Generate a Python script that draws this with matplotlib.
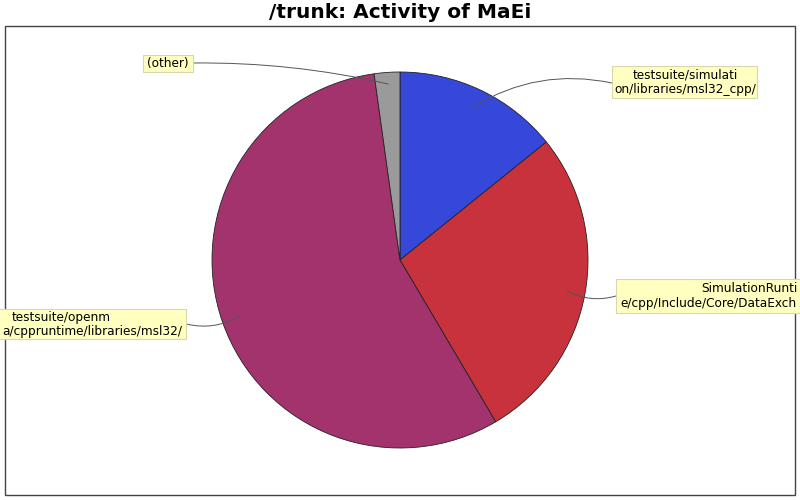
import matplotlib.pyplot as plt
from matplotlib.patches import Rectangle

# slice data (clockwise from 12 o'clock)
labels = ["testsuite/simulation/libraries/msl32_cpp/",
          "SimulationRuntime/cpp/Include/Core/DataExchange/",
          "testsuite/openmodelica/cppruntime/libraries/msl32/",
          "(other)"]
shares = [14.2, 27.3, 56.3, 2.2]
colors = ["#3548da", "#c8323c", "#a3336d", "#9a9a9a"]

fig = plt.figure(figsize=(8, 5), dpi=100)
ax = fig.add_axes([0, 0, 1, 1])

def py(y):
    # pixel row -> data y
    return 500 - y

# frame
ax.add_patch(Rectangle((5, py(495)), 790, 469, fill=False, edgecolor="#444444", lw=1))

ax.pie(shares, colors=colors, startangle=90, counterclock=False,
       center=(400, py(260)), radius=188, frame=True,
       wedgeprops=dict(edgecolor="#222222", linewidth=0.6))
ax.set_xlim(0, 800)
ax.set_ylim(0, 500)
ax.axis("off")

fig.text(0.5, 1 - 13 / 500, "/trunk: Activity of MaEi", ha="center", va="center",
         fontsize=14.5, fontweight="bold", family="DejaVu Sans")

box_kw = dict(facecolor="#ffffc0", edgecolor="#d8d8b0", lw=0.8)
txt_kw = dict(fontsize=8.7, color="black", va="center")

def label_box(x0, y0, x1, y1, lines, anchor, target, rad):
    ax.add_patch(Rectangle((x0, py(y1)), x1 - x0, y1 - y0, zorder=3, clip_on=False, **box_kw))
    for (tx, ty, s, ha) in lines:
        ax.text(tx, py(ty), s, ha=ha, zorder=4, **txt_kw)
    ax.annotate("", xy=(target[0], py(target[1])), xytext=(anchor[0], py(anchor[1])),
                arrowprops=dict(arrowstyle="-", color="#555555", lw=0.7,
                                connectionstyle="arc3,rad=%s" % rad,
                                shrinkA=0, shrinkB=0), zorder=2)

label_box(143, 55, 193, 72, [(168, 63.5, "(other)", "center")],
          (193, 63), (388, 84), -0.06)
label_box(612, 66, 757, 98, [(685, 75, "testsuite/simulati", "center"),
                             (685, 89, "on/libraries/msl32_cpp/", "center")],
          (612, 83), (473, 107), 0.2)
label_box(616, 279, 810, 313, [(797, 288, "SimulationRunti", "right"),
                               (620, 303, "e/cpp/Include/Core/DataExch", "left")],
          (616, 296), (567, 291), -0.2)
label_box(-10, 309, 186, 339, [(12, 317, "testsuite/openm", "left"),
                               (182, 332, "a/cppruntime/libraries/msl32/", "right")],
          (186, 324), (240, 316), 0.2)

fig.savefig("out.png", dpi=100)
